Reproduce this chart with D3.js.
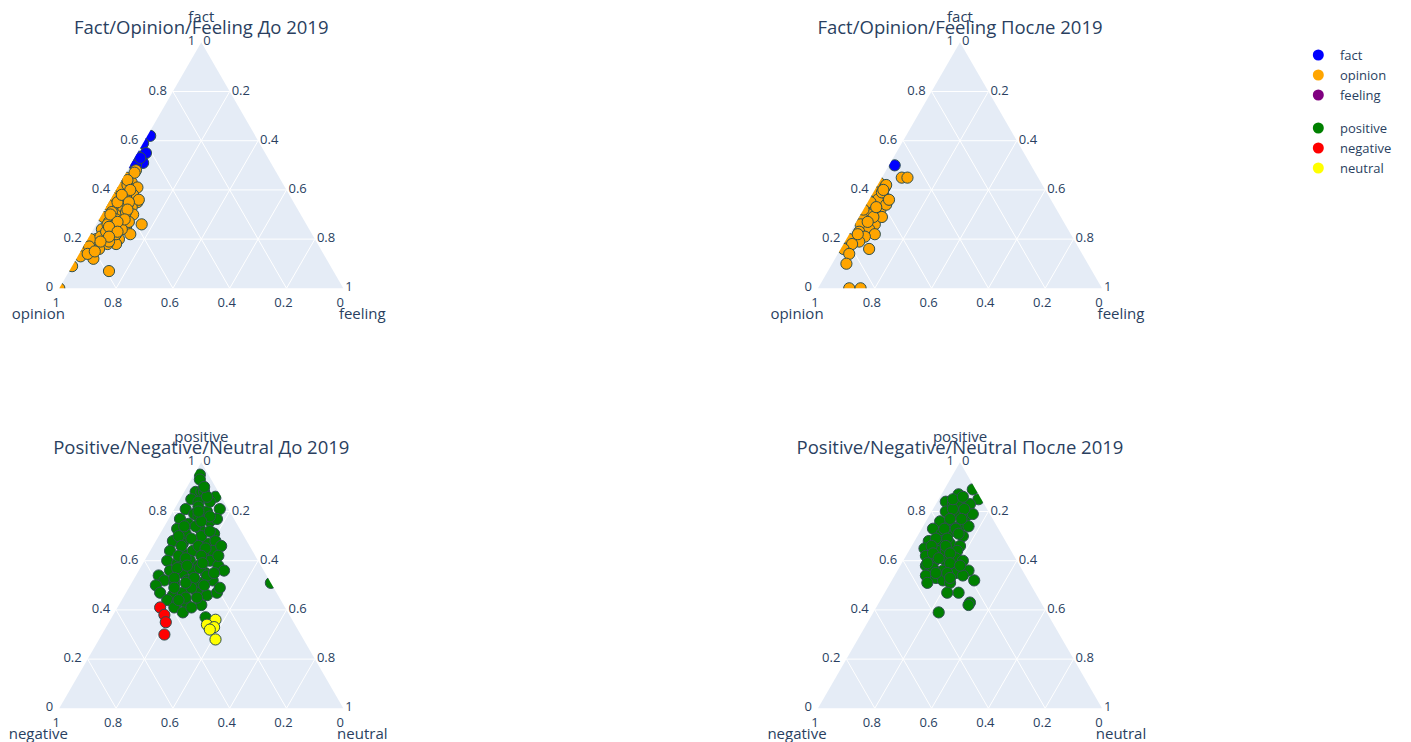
<!DOCTYPE html>
<html>
<head>
<meta charset="utf-8">
<script src="https://cdn.jsdelivr.net/npm/d3@7"></script>
<style>
  body { margin: 0; background: #fff; }
  svg { display: block; font-family: "Open Sans", verdana, arial, sans-serif; }
</style>
</head>
<body>
<svg id="chart" width="1411" height="742"></svg>
<script>
// ---- labels ----
const panelTitles = [
  "Fact/Opinion/Feeling До 2019",
  "Fact/Opinion/Feeling После 2019",
  "Positive/Negative/Neutral До 2019",
  "Positive/Negative/Neutral После 2019"
];
const styleAxes = ["fact", "opinion", "feeling"];          // a (top), b (left), c (right)
const sentimentAxes = ["positive", "negative", "neutral"];
const tickValues = [0, 0.2, 0.4, 0.6, 0.8, 1];
const tickLabels = ["0", "0.2", "0.4", "0.6", "0.8", "1"];
const legendNames = [["fact", "opinion", "feeling"], ["positive", "negative", "neutral"]];
const legendColors = [["blue", "orange", "purple"], ["green", "red", "yellow"]];

// ---- compositions [first, second, third] per text ----
const factBefore = [
  [0.62, 0.37, 0.01], [0.59, 0.41, 0.00], [0.55, 0.42, 0.03], [0.51, 0.45, 0.04],
  [0.54, 0.46, 0.00], [0.51, 0.49, 0.00], [0.50, 0.48, 0.02], [0.53, 0.45, 0.02]
];
const opinionBefore = [
  [0.48, 0.49, 0.03], [0.45, 0.54, 0.01], [0.43, 0.53, 0.04], [0.41, 0.52, 0.07],
  [0.38, 0.55, 0.07], [0.39, 0.57, 0.04], [0.35, 0.55, 0.10], [0.33, 0.58, 0.09],
  [0.36, 0.61, 0.03], [0.31, 0.64, 0.05], [0.33, 0.65, 0.02], [0.29, 0.62, 0.09],
  [0.30, 0.59, 0.11], [0.25, 0.64, 0.11], [0.25, 0.67, 0.08], [0.22, 0.71, 0.07],
  [0.24, 0.73, 0.03], [0.29, 0.70, 0.01], [0.27, 0.69, 0.04], [0.20, 0.69, 0.11],
  [0.22, 0.64, 0.14], [0.18, 0.71, 0.11], [0.18, 0.74, 0.08], [0.20, 0.77, 0.03],
  [0.20, 0.79, 0.01], [0.16, 0.82, 0.02], [0.17, 0.83, 0.00], [0.16, 0.78, 0.06],
  [0.12, 0.82, 0.06], [0.13, 0.86, 0.01], [0.09, 0.91, 0.00], [0.07, 0.79, 0.14],
  [0.26, 0.58, 0.16], [0.36, 0.54, 0.10], [0.39, 0.61, 0.00], [0.41, 0.58, 0.01],
  [0.37, 0.63, 0.00], [0.34, 0.66, 0.00], [0.33, 0.61, 0.06], [0.27, 0.62, 0.11],
  [0.31, 0.66, 0.03], [0.17, 0.81, 0.02], [0.21, 0.75, 0.04], [0.22, 0.69, 0.09],
  [0.47, 0.50, 0.03], [0.34, 0.59, 0.07], [0.24, 0.66, 0.10], [0.42, 0.55, 0.03],
  [0.37, 0.58, 0.05], [0.31, 0.61, 0.08], [0.28, 0.66, 0.06], [0.26, 0.70, 0.04],
  [0.23, 0.72, 0.05], [0.19, 0.73, 0.08], [0.14, 0.83, 0.03], [0.35, 0.62, 0.03],
  [0.30, 0.67, 0.03], [0.00, 1.00, 0.00], [0.44, 0.54, 0.02], [0.40, 0.55, 0.05],
  [0.38, 0.59, 0.03], [0.35, 0.58, 0.07], [0.32, 0.60, 0.08], [0.28, 0.63, 0.09],
  [0.27, 0.66, 0.07], [0.25, 0.70, 0.05], [0.23, 0.68, 0.09], [0.21, 0.72, 0.07],
  [0.19, 0.76, 0.05], [0.15, 0.80, 0.05]
];
const feelingBefore = [];

const factAfter = [[0.50, 0.48, 0.02]];
const opinionAfter = [
  [0.45, 0.48, 0.07], [0.45, 0.46, 0.09], [0.43, 0.57, 0.00], [0.41, 0.56, 0.03],
  [0.39, 0.60, 0.01], [0.38, 0.58, 0.04], [0.36, 0.61, 0.03], [0.35, 0.64, 0.01],
  [0.32, 0.62, 0.06], [0.31, 0.65, 0.04], [0.30, 0.67, 0.03], [0.28, 0.70, 0.02],
  [0.26, 0.67, 0.07], [0.26, 0.72, 0.02], [0.24, 0.70, 0.06], [0.23, 0.74, 0.03],
  [0.22, 0.69, 0.09], [0.21, 0.73, 0.06], [0.20, 0.77, 0.03], [0.20, 0.79, 0.01],
  [0.19, 0.76, 0.05], [0.18, 0.79, 0.03], [0.16, 0.74, 0.10], [0.16, 0.83, 0.01],
  [0.14, 0.82, 0.04], [0.10, 0.85, 0.05], [0.00, 0.89, 0.11], [0.00, 0.85, 0.15],
  [0.34, 0.59, 0.07], [0.29, 0.63, 0.08], [0.29, 0.66, 0.05], [0.42, 0.55, 0.03],
  [0.39, 0.58, 0.03], [0.36, 0.57, 0.07], [0.32, 0.68, 0.00], [0.40, 0.57, 0.03],
  [0.33, 0.63, 0.04], [0.27, 0.69, 0.04], [0.22, 0.75, 0.03]
];
const feelingAfter = [];

const positiveBefore = [
  [0.95, 0.03, 0.02], [0.93, 0.04, 0.03], [0.88, 0.08, 0.04], [0.88, 0.06, 0.06],
  [0.88, 0.05, 0.07], [0.86, 0.02, 0.12], [0.85, 0.11, 0.04], [0.84, 0.09, 0.07],
  [0.81, 0.03, 0.16], [0.81, 0.15, 0.04], [0.79, 0.13, 0.08], [0.80, 0.08, 0.12],
  [0.77, 0.19, 0.04], [0.75, 0.17, 0.08], [0.76, 0.09, 0.15], [0.77, 0.06, 0.17],
  [0.73, 0.22, 0.05], [0.71, 0.20, 0.09], [0.73, 0.14, 0.13], [0.71, 0.10, 0.19],
  [0.68, 0.26, 0.06], [0.67, 0.23, 0.10], [0.68, 0.17, 0.15], [0.67, 0.14, 0.19],
  [0.68, 0.11, 0.21], [0.64, 0.29, 0.07], [0.63, 0.25, 0.12], [0.64, 0.21, 0.15],
  [0.63, 0.17, 0.20], [0.64, 0.14, 0.22], [0.66, 0.10, 0.24], [0.60, 0.32, 0.08],
  [0.59, 0.29, 0.12], [0.60, 0.24, 0.16], [0.58, 0.22, 0.20], [0.60, 0.17, 0.23],
  [0.56, 0.33, 0.11], [0.55, 0.29, 0.16], [0.56, 0.25, 0.19], [0.55, 0.21, 0.24],
  [0.58, 0.15, 0.27], [0.56, 0.14, 0.30], [0.54, 0.38, 0.08], [0.52, 0.37, 0.11],
  [0.51, 0.34, 0.15], [0.52, 0.29, 0.19], [0.51, 0.25, 0.24], [0.52, 0.20, 0.28],
  [0.50, 0.41, 0.09], [0.47, 0.41, 0.12], [0.46, 0.37, 0.17], [0.47, 0.33, 0.20],
  [0.47, 0.28, 0.25], [0.46, 0.25, 0.29], [0.47, 0.21, 0.32], [0.44, 0.40, 0.16],
  [0.43, 0.37, 0.20], [0.43, 0.34, 0.23], [0.41, 0.39, 0.20], [0.39, 0.37, 0.24],
  [0.42, 0.29, 0.29], [0.37, 0.30, 0.33], [0.51, 0.00, 0.49],
  [0.84, 0.05, 0.11], [0.82, 0.10, 0.08], [0.78, 0.12, 0.10], [0.78, 0.08, 0.14],
  [0.74, 0.15, 0.11], [0.74, 0.19, 0.07], [0.70, 0.15, 0.15], [0.70, 0.23, 0.07],
  [0.69, 0.19, 0.12], [0.66, 0.18, 0.16], [0.66, 0.24, 0.10], [0.65, 0.16, 0.19],
  [0.62, 0.27, 0.11], [0.62, 0.19, 0.19], [0.61, 0.25, 0.14], [0.62, 0.13, 0.25],
  [0.57, 0.30, 0.13], [0.57, 0.22, 0.21], [0.58, 0.26, 0.16], [0.53, 0.33, 0.14],
  [0.53, 0.26, 0.21], [0.54, 0.21, 0.25], [0.49, 0.35, 0.16], [0.49, 0.29, 0.22],
  [0.50, 0.24, 0.26], [0.49, 0.19, 0.32], [0.45, 0.33, 0.22], [0.45, 0.29, 0.26],
  [0.44, 0.36, 0.20], [0.41, 0.33, 0.26], [0.72, 0.11, 0.17], [0.76, 0.12, 0.12],
  [0.80, 0.11, 0.09], [0.86, 0.05, 0.09], [0.90, 0.04, 0.06], [0.59, 0.20, 0.21],
  [0.55, 0.18, 0.27], [0.51, 0.30, 0.19]
];
const negativeBefore = [
  [0.41, 0.44, 0.15], [0.38, 0.44, 0.18], [0.35, 0.45, 0.20], [0.30, 0.48, 0.22]
];
const neutralBefore = [
  [0.36, 0.27, 0.37], [0.34, 0.31, 0.35], [0.33, 0.29, 0.38], [0.32, 0.31, 0.37],
  [0.28, 0.31, 0.41]
];

const positiveAfter = [
  [0.89, 0.01, 0.10], [0.85, 0.01, 0.14], [0.87, 0.07, 0.06], [0.84, 0.13, 0.03],
  [0.83, 0.11, 0.06], [0.83, 0.08, 0.09], [0.83, 0.05, 0.12], [0.80, 0.15, 0.05],
  [0.79, 0.12, 0.09], [0.78, 0.09, 0.13], [0.79, 0.06, 0.15], [0.76, 0.19, 0.05],
  [0.75, 0.16, 0.09], [0.74, 0.13, 0.13], [0.74, 0.10, 0.16], [0.73, 0.23, 0.04],
  [0.71, 0.21, 0.08], [0.72, 0.17, 0.11], [0.70, 0.14, 0.16], [0.68, 0.27, 0.05],
  [0.68, 0.23, 0.09], [0.67, 0.20, 0.13], [0.66, 0.17, 0.17], [0.65, 0.30, 0.05],
  [0.64, 0.26, 0.10], [0.64, 0.23, 0.13], [0.64, 0.19, 0.17], [0.62, 0.31, 0.07],
  [0.60, 0.29, 0.11], [0.60, 0.25, 0.15], [0.61, 0.21, 0.18], [0.60, 0.19, 0.21],
  [0.58, 0.33, 0.09], [0.57, 0.31, 0.12], [0.56, 0.28, 0.16], [0.57, 0.24, 0.19],
  [0.54, 0.35, 0.11], [0.53, 0.32, 0.15], [0.54, 0.28, 0.18], [0.55, 0.24, 0.21],
  [0.56, 0.19, 0.25], [0.51, 0.36, 0.13], [0.52, 0.30, 0.18], [0.51, 0.28, 0.21],
  [0.54, 0.22, 0.24], [0.52, 0.19, 0.29], [0.47, 0.31, 0.22], [0.47, 0.27, 0.26],
  [0.43, 0.25, 0.32], [0.42, 0.26, 0.32], [0.39, 0.38, 0.23],
  [0.81, 0.12, 0.07], [0.81, 0.08, 0.11], [0.77, 0.15, 0.08], [0.77, 0.11, 0.12],
  [0.73, 0.19, 0.08], [0.73, 0.15, 0.12], [0.71, 0.15, 0.14], [0.69, 0.24, 0.07],
  [0.69, 0.20, 0.11], [0.66, 0.27, 0.07], [0.66, 0.22, 0.12], [0.63, 0.28, 0.09],
  [0.63, 0.22, 0.15], [0.61, 0.27, 0.12], [0.59, 0.32, 0.09], [0.59, 0.24, 0.17],
  [0.58, 0.21, 0.21], [0.55, 0.31, 0.14], [0.55, 0.27, 0.18], [0.53, 0.27, 0.20],
  [0.85, 0.10, 0.05], [0.86, 0.06, 0.08]
];
const negativeAfter = [];
const neutralAfter = [];

// ---- layout ----
const svg = d3.select("#chart");
const defs = svg.append("defs");
const TEXT = "#2a3f5f";

const panels = [
  { title: panelTitles[0], axes: styleAxes, left: 59.3, right: 343.3, base: 288.3,
    traces: [[factBefore, "blue"], [opinionBefore, "orange"], [feelingBefore, "purple"]] },
  { title: panelTitles[1], axes: styleAxes, left: 818, right: 1102, base: 288.3,
    traces: [[factAfter, "blue"], [opinionAfter, "orange"], [feelingAfter, "purple"]] },
  { title: panelTitles[2], axes: sentimentAxes, left: 59.3, right: 343.3, base: 708.3,
    traces: [[positiveBefore, "green"], [negativeBefore, "red"], [neutralBefore, "yellow"]] },
  { title: panelTitles[3], axes: sentimentAxes, left: 818, right: 1102, base: 708.3,
    traces: [[positiveAfter, "green"], [negativeAfter, "red"], [neutralAfter, "yellow"]] }
];

panels.forEach((p, i) => {
  const side = p.right - p.left;
  const h = side * Math.sqrt(3) / 2;
  const x = d3.scaleLinear().domain([0, 1]).range([p.left, p.right]);
  const y = d3.scaleLinear().domain([0, 1]).range([p.base, p.base - h]);
  const pos = (a, b, c) => {
    const s = a + b + c || 1;
    a /= s; c /= s;
    return [x(c + a / 2), y(a)];
  };
  const apex = pos(1, 0, 0), bl = pos(0, 1, 0), br = pos(0, 0, 1);
  const triPath = d3.line()([apex, bl, br]) + "Z";

  const g = svg.append("g");
  g.append("path").attr("d", triPath).attr("fill", "#E5ECF6");

  // grid
  const gridVals = tickValues.slice(1, -1);
  const grid = g.append("g").attr("stroke", "#fff").attr("stroke-width", 1);
  gridVals.forEach(v => {
    [[pos(v, 1 - v, 0), pos(v, 0, 1 - v)],
     [pos(0, v, 1 - v), pos(1 - v, v, 0)],
     [pos(0, 1 - v, v), pos(1 - v, 0, v)]].forEach(seg => {
      grid.append("line")
        .attr("x1", seg[0][0]).attr("y1", seg[0][1])
        .attr("x2", seg[1][0]).attr("y2", seg[1][1]);
    });
  });

  // markers, clipped to the triangle
  const clipId = "tri-clip-" + i;
  defs.append("clipPath").attr("id", clipId).append("path").attr("d", triPath);
  const marks = g.append("g").attr("clip-path", `url(#${clipId})`);
  p.traces.forEach(([rows, color]) => {
    marks.selectAll(null).data(rows).enter().append("circle")
      .attr("cx", d => pos(d[0], d[1], d[2])[0])
      .attr("cy", d => pos(d[0], d[1], d[2])[1])
      .attr("r", 5.6)
      .attr("fill", color)
      .attr("stroke", "DarkSlateGrey")
      .attr("stroke-width", 1);
  });

  // tick labels
  const ticks = g.append("g").attr("fill", TEXT).attr("font-size", 13);
  tickValues.forEach((v, k) => {
    const pa = pos(v, 1 - v, 0);
    ticks.append("text").attr("x", pa[0] - 6).attr("y", pa[1] - 2)
      .attr("text-anchor", "end").attr("dominant-baseline", "central").text(tickLabels[k]);
    const pc = pos(1 - v, 0, v);
    ticks.append("text").attr("x", pc[0] + 2).attr("y", pc[1] - 2)
      .attr("text-anchor", "start").attr("dominant-baseline", "central").text(tickLabels[k]);
    const pb = pos(0, v, 1 - v);
    ticks.append("text").attr("x", pb[0] - 3).attr("y", pb[1] + 13.5)
      .attr("text-anchor", "middle").attr("dominant-baseline", "central").text(tickLabels[k]);
  });

  // axis titles
  const at = g.append("g").attr("fill", TEXT).attr("font-size", 15)
    .attr("text-anchor", "middle").attr("dominant-baseline", "central");
  at.append("text").attr("x", apex[0]).attr("y", apex[1] - 26).text(p.axes[0]);
  at.append("text").attr("x", bl[0] - 21).attr("y", bl[1] + 25).text(p.axes[1]);
  at.append("text").attr("x", br[0] + 19).attr("y", br[1] + 25).text(p.axes[2]);

  // panel title
  g.append("text").attr("x", apex[0]).attr("y", apex[1] - 16)
    .attr("text-anchor", "middle").attr("dominant-baseline", "central")
    .attr("fill", TEXT).attr("font-size", 18.5).text(p.title);
});

// legend
const legend = svg.append("g").attr("font-size", 13).attr("fill", TEXT);
const groupTops = [55, 128];
legendNames.forEach((names, gi) => {
  names.forEach((name, k) => {
    const yy = groupTops[gi] + k * 20;
    legend.append("circle").attr("cx", 1318.3).attr("cy", yy).attr("r", 5.5)
      .attr("fill", legendColors[gi][k]);
    legend.append("text").attr("x", 1340).attr("y", yy)
      .attr("dominant-baseline", "central").text(name);
  });
});
</script>
</body>
</html>
